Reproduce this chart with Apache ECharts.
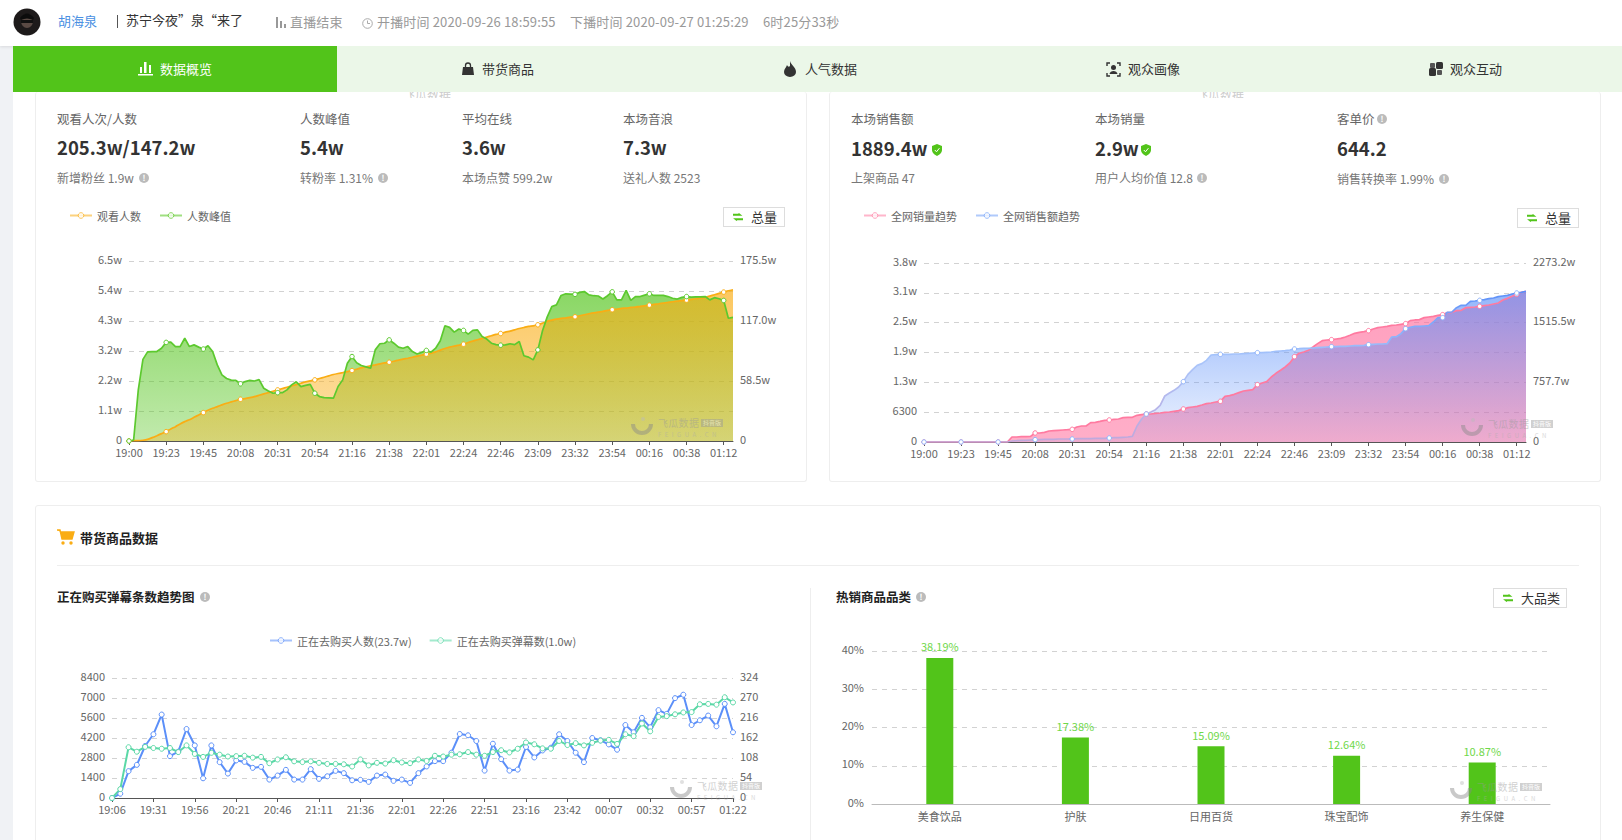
<!DOCTYPE html>
<html>
<head>
<meta charset="utf-8">
<title>直播详情</title>
<script src="https://cdn.jsdelivr.net/npm/echarts@6/dist/echarts.min.js"></script>
<style>
html, body { margin: 0; padding: 0; width: 1622px; height: 840px; overflow: hidden; background: #fff; font-family: "Noto Sans CJK SC", "Noto Sans", sans-serif; color: #666; }
.abs { position: absolute; }
.t { position: absolute; white-space: nowrap; transform: translateY(-50%); font-size: 13px; line-height: 18px; }
.label { color: #666; font-size: 12.5px; }
.value { color: #333; font-size: 18.5px; font-weight: 700; }
.sub { color: #777; font-size: 12px; }
.head { color: #999; font-size: 13px; letter-spacing: .15px; }
.tab { color: #333; font-size: 13px; }
.bold { color: #222; font-size: 13px; font-weight: 700; }
.info { position: absolute; width: 10px; height: 10px; border-radius: 50%; background: #bbb; color: #fff; font-size: 8px; line-height: 10px; text-align: center; font-weight: 700; transform: translateY(-50%); }
.shield { position: absolute; transform: translateY(-50%); }
.card { position: absolute; border: 1px solid #eee; border-radius: 3px; box-sizing: border-box; background: #fff; }
.btn { position: absolute; box-sizing: border-box; border: 1px solid #ddd; background: #fff; color: #333; font-size: 13px; height: 20px; line-height: 18px; }
.btn svg { position: absolute; left: 9px; top: 5px; }
.btn span { position: absolute; left: 27px; top: 0; white-space: nowrap; }
.chart { position: absolute; }
.clip { position: absolute; height: 6px; overflow: hidden; color: #ccc; font-size: 12px; line-height: 6px; white-space: nowrap; }
.mark { position: absolute; pointer-events: none; opacity: .45; }
.mark b { position: absolute; left: 16px; top: -11px; font-weight: 400; font-size: 10px; letter-spacing: .3px; color: #999; white-space: nowrap; line-height: 14px; }
.mark i { position: absolute; left: 59px; top: -8px; font-style: normal; font-size: 6px; line-height: 8px; background: #999; color: #fff; padding: 0 2px; white-space: nowrap; }
.mark u { position: absolute; left: 16px; top: 4px; text-decoration: none; font-size: 6px; letter-spacing: 3.5px; color: #aaa; line-height: 8px; white-space: nowrap; }
</style>
</head>
<body>
<div class="abs" style="left:0;top:46px;width:13px;height:794px;background:#f0f2f5"></div>
<div class="abs" style="left:0;top:0;width:1622px;height:46px;background:#fff;box-shadow:0 1px 3px rgba(0,0,0,.1)"></div>

<svg class="abs" style="left:13px;top:8px" width="28" height="28"><circle cx="14" cy="14" r="13.5" fill="#1d1a1a"/><ellipse cx="14" cy="13" rx="6" ry="7" fill="#5a4a44"/><path d="M7 10 Q14 1 21 10 L20 12 Q14 9 8 12 Z" fill="#0c0c0c"/><rect x="8" y="12" width="12" height="3" fill="#111"/></svg>
<div class="t" style="left:58px;top:21px;color:#4a90e2">胡海泉</div>
<div class="abs" style="left:117px;top:15px;width:1px;height:13px;background:#555"></div>
<div class="t" style="left:126px;top:20px;color:#333">苏宁今夜”泉“来了</div>
<svg class="abs" style="left:276px;top:17px" width="10" height="11"><rect x="0" y="0" width="2" height="11" fill="#999"/><rect x="4" y="4" width="2" height="7" fill="#999"/><rect x="8" y="7" width="2" height="4" fill="#999"/></svg>
<div class="t head" style="left:290px;top:22px">直播结束</div>
<svg class="abs" style="left:362px;top:18px" width="11" height="11"><circle cx="5.5" cy="5.5" r="4.8" fill="none" stroke="#aaa"/><path d="M5.5 2.5V5.5H8" fill="none" stroke="#aaa"/></svg>
<div class="t head" style="left:377px;top:22px">开播时间 2020-09-26 18:59:55</div>
<div class="t head" style="left:570px;top:22px">下播时间 2020-09-27 01:25:29</div>
<div class="t head" style="left:763px;top:22px">6时25分33秒</div>

<div class="abs" style="left:13px;top:46px;width:1609px;height:46px;background:#ebf7e8"></div>
<div class="abs" style="left:13px;top:46px;width:324px;height:46px;background:#52c41a"></div>
<svg class="abs" style="left:138px;top:61px" width="15" height="15"><rect x="2" y="6" width="2" height="6" fill="#fff"/><rect x="6" y="1" width="2.5" height="11" fill="#fff"/><rect x="11" y="4" width="2" height="8" fill="#fff"/><rect x="0" y="13" width="15" height="1.5" fill="#fff"/></svg>
<div class="t tab" style="left:160px;top:69px;color:#fff">数据概览</div>
<svg class="abs" style="left:461px;top:62px" width="14" height="14"><path d="M2 5H12L13 13H1Z" fill="#333"/><path d="M4.5 5V3.5a2.5 2.5 0 0 1 5 0V5" fill="none" stroke="#333" stroke-width="1.3"/></svg>
<div class="t tab" style="left:482px;top:69px">带货商品</div>
<svg class="abs" style="left:783px;top:61px" width="14" height="16"><path d="M7 0C8 4 13 6 13 11A6 5 0 0 1 1 11C1 8 3 7 4 4C5 6 6 6 7 5C7 3 7 2 7 0Z" fill="#333"/></svg>
<div class="t tab" style="left:805px;top:69px">人气数据</div>
<svg class="abs" style="left:1106px;top:62px" width="15" height="15"><path d="M1 4V1H4M11 1H14V4M14 11V14H11M4 14H1V11" fill="none" stroke="#333" stroke-width="1.4"/><circle cx="7.5" cy="5.5" r="2.5" fill="#333"/><path d="M3.5 12C4 8 11 8 11.5 12Z" fill="#333"/></svg>
<div class="t tab" style="left:1128px;top:69px">观众画像</div>
<svg class="abs" style="left:1429px;top:62px" width="14" height="14"><rect x="0" y="6" width="7" height="8" rx="1.5" fill="#333"/><rect x="7" y="0" width="7" height="7" rx="1.5" fill="#333"/><rect x="1" y="1" width="5" height="5" rx="1" fill="#555"/><rect x="8" y="8" width="5" height="5" rx="1" fill="#555"/></svg>
<div class="t tab" style="left:1450px;top:69px">观众互动</div>

<div class="card" style="left:35px;top:92px;width:772px;height:390px;border-top:none"></div>
<div class="card" style="left:829px;top:92px;width:772px;height:390px;border-top:none"></div>
<div class="clip" style="left:403px;top:92px">飞瓜数据</div>
<div class="clip" style="left:1196px;top:92px">飞瓜数据</div>

<div class="t label" style="left:57px;top:119px">观看人次/人数</div>
<div class="t label" style="left:300px;top:119px">人数峰值</div>
<div class="t label" style="left:462px;top:119px">平均在线</div>
<div class="t label" style="left:623px;top:119px">本场音浪</div>
<div class="t value" style="left:57px;top:147px">205.3w/147.2w</div>
<div class="t value" style="left:300px;top:147px">5.4w</div>
<div class="t value" style="left:462px;top:147px">3.6w</div>
<div class="t value" style="left:623px;top:147px">7.3w</div>
<div class="t sub" style="left:57px;top:178px">新增粉丝 1.9w</div><div class="info" style="left:139px;top:178px">!</div>
<div class="t sub" style="left:300px;top:178px">转粉率 1.31%</div><div class="info" style="left:378px;top:178px">!</div>
<div class="t sub" style="left:462px;top:178px">本场点赞 599.2w</div>
<div class="t sub" style="left:623px;top:178px">送礼人数 2523</div>

<div class="t label" style="left:851px;top:119px">本场销售额</div>
<div class="t label" style="left:1095px;top:119px">本场销量</div>
<div class="t label" style="left:1337px;top:119px">客单价</div><div class="info" style="left:1377px;top:119px">!</div>
<div class="t value" style="left:851px;top:148px">1889.4w</div>
<svg class="shield" style="left:932px;top:150px" width="10" height="12"><path d="M5 0L10 2V6C10 9 7 11 5 12C3 11 0 9 0 6V2Z" fill="#52c41a"/><path d="M2.8 6L4.5 7.8L7.4 4.2" fill="none" stroke="#fff"/></svg>
<div class="t value" style="left:1095px;top:148px">2.9w</div>
<svg class="shield" style="left:1141px;top:150px" width="10" height="12"><path d="M5 0L10 2V6C10 9 7 11 5 12C3 11 0 9 0 6V2Z" fill="#52c41a"/><path d="M2.8 6L4.5 7.8L7.4 4.2" fill="none" stroke="#fff"/></svg>
<div class="t value" style="left:1337px;top:148px">644.2</div>
<div class="t sub" style="left:851px;top:178px">上架商品 47</div>
<div class="t sub" style="left:1095px;top:178px">用户人均价值 12.8</div><div class="info" style="left:1197px;top:178px">!</div>
<div class="t sub" style="left:1337px;top:179px">销售转换率 1.99%</div><div class="info" style="left:1439px;top:179px">!</div>

<div class="btn" style="left:723px;top:207px;width:62px"><svg width="10" height="8"><path d="M0 1.5H5.5M5.5 0.5L7.5 2H0" fill="none" stroke="#52c41a" stroke-width="1.3"/><path d="M10 6.5H4M4 7.5L2 6H10" fill="none" stroke="#52c41a" stroke-width="1.3"/></svg><span>总量</span></div>
<div class="btn" style="left:1517px;top:208px;width:62px"><svg width="10" height="8"><path d="M0 1.5H5.5M5.5 0.5L7.5 2H0" fill="none" stroke="#52c41a" stroke-width="1.3"/><path d="M10 6.5H4M4 7.5L2 6H10" fill="none" stroke="#52c41a" stroke-width="1.3"/></svg><span>总量</span></div>

<div class="card" style="left:35px;top:505px;width:1566px;height:345px"></div>
<svg class="abs" style="left:57px;top:529px" width="18" height="16"><path d="M0 1H3L5 10H15L17 3H4" fill="#faad14" stroke="#faad14" stroke-width="1.4"/><circle cx="6" cy="14" r="1.7" fill="#faad14"/><circle cx="14" cy="14" r="1.7" fill="#faad14"/></svg>
<div class="t bold" style="left:80px;top:538px">带货商品数据</div>
<div class="abs" style="left:57px;top:565px;width:1522px;height:1px;background:#eee"></div>
<div class="t bold" style="left:57px;top:597px;font-size:12.5px">正在购买弹幕条数趋势图</div><div class="info" style="left:200px;top:597px">!</div>
<div class="abs" style="left:810px;top:588px;width:1px;height:252px;background:#eee"></div>
<div class="t bold" style="left:836px;top:597px;font-size:12.5px">热销商品品类</div><div class="info" style="left:916px;top:597px">!</div>
<div class="btn" style="left:1493px;top:588px;width:74px"><svg width="10" height="8"><path d="M0 1.5H5.5M5.5 0.5L7.5 2H0" fill="none" stroke="#52c41a" stroke-width="1.3"/><path d="M10 6.5H4M4 7.5L2 6H10" fill="none" stroke="#52c41a" stroke-width="1.3"/></svg><span>大品类</span></div>

<div id="chart-viewers" class="chart" style="left:36px;top:195px;width:771px;height:285px"></div>
<div id="chart-sales" class="chart" style="left:830px;top:195px;width:771px;height:285px"></div>
<div id="chart-danmu" class="chart" style="left:36px;top:625px;width:774px;height:215px"></div>
<div id="chart-category" class="chart" style="left:812px;top:610px;width:790px;height:230px"></div>

<script>
// 观看 / 峰值 chart
var tickLabelsLive = ['19:00','19:23','19:45','20:08','20:31','20:54','21:16','21:38','22:01','22:24','22:46','23:09','23:32','23:54','00:16','00:38','01:12'];
var viewerPeak = [0,360,18400,29400,32100,32200,32200,33400,35500,35600,34000,34000,37000,34000,34600,33800,33100,34300,32200,27400,23800,22500,21900,21800,20600,21400,21800,21600,22100,19000,18000,17200,17400,17400,18400,20200,21300,19600,20000,20400,17200,16000,15600,15500,15400,19600,22000,28000,30400,28200,27200,26700,26200,32800,35000,35200,36400,35200,33800,33400,34000,32200,31300,31900,32600,32000,33400,36100,41500,40900,39200,40300,39800,38500,39800,40000,37600,36700,35200,34700,34500,34600,35000,34700,35800,30700,30200,29200,32800,39700,44600,48400,49000,52400,53000,52900,52800,53500,53800,52600,52300,52200,51100,52300,53700,50800,50800,54200,50600,52000,52000,52500,53000,52400,52400,52400,52000,51400,51100,51700,52000,51800,51900,51900,52000,50800,51600,51200,50600,44200,44500];
// 观看人数, unit w
var viewerTotal = [0,0.3,0.3,0.7,1.6,3.3,5.2,7.2,9.1,11.7,14.0,16.6,18.9,20.8,23.1,25.4,27.7,30.0,31.9,33.5,35.2,36.8,38.1,39.4,40.7,41.4,42.3,43.3,44.6,45.9,47.2,48.5,49.8,51.1,52.4,53.7,55.0,56.3,57.6,58.6,59.6,60.9,62.2,63.5,64.8,65.8,66.7,67.7,68.7,70.0,71.3,72.3,73.3,74.2,75.2,76.2,76.8,77.8,78.8,79.8,80.7,81.7,82.7,83.7,84.7,85.6,86.9,88.6,90.2,91.5,92.5,93.4,94.4,96.1,97.4,98.7,100.0,101.3,102.6,103.9,104.8,106.1,107.1,108.4,109.7,110.7,111.7,112.3,113.3,114.9,116.6,117.9,118.8,119.5,120.1,120.8,121.1,122.1,123.1,124.1,125.0,125.7,126.3,127.3,128.0,128.6,129.3,129.6,130.2,130.6,131.2,131.9,132.5,133.2,133.8,134.5,135.1,135.8,136.4,136.8,137.4,138.1,138.7,139.4,140.0,141.3,142.6,143.9,145.2,146.5,147.5];

// 全网销量 / 销售额 chart
var salesVolume = [0,0,0,0,0,0,0,0,0,0,0,0,0,0,0,0,0,0,0,1060,1060,1130,1130,1200,1900,1900,2040,2320,2390,2460,2530,2600,2680,3170,3380,3380,4080,4150,4360,4580,4650,4790,4860,5140,5210,5210,5630,5770,5910,5910,6050,6120,6270,6340,6480,6620,6970,7250,7390,7530,7810,8100,8240,8450,8590,9640,9790,10070,10420,10770,10910,11050,12110,12460,12740,13730,14500,15140,15840,16680,18020,18730,19010,19360,20060,20770,21400,21540,21610,21750,21890,22180,22530,22950,23160,23300,23510,23870,24150,24290,24430,24640,24710,24850,24990,25630,25770,25840,26260,26400,26540,26750,26890,27320,27390,27740,27810,28370,28440,28510,28650,28790,28930,29150,29360,29990,30340,30760,31190,31610,31820];
// 销售额, unit w
var salesAmount = [0,0,0,0,0,0,0,0,0,0,0,0,0,0,0,0,0,0,0,12.7,16.9,21.2,21.2,25.4,29.6,29.6,33.9,33.9,33.9,38.1,38.1,38.1,38.1,42.3,42.3,42.3,42.3,46.6,46.6,46.6,50.8,55.0,55.0,59.3,63.5,72.0,203.2,292.1,355.6,381.0,410.6,465.6,584.2,622.3,656.1,698.4,766.2,859.3,918.6,973.6,994.8,1037.1,1104.8,1109.0,1113.3,1113.3,1113.3,1117.5,1117.5,1121.7,1126.0,1130.2,1134.4,1134.4,1138.7,1142.9,1151.4,1155.6,1159.8,1168.3,1181.0,1185.2,1189.5,1189.5,1193.7,1198.0,1202.2,1206.4,1210.6,1210.6,1214.9,1214.9,1219.1,1223.3,1223.3,1227.6,1236.0,1240.3,1244.5,1244.5,1248.7,1333.4,1337.6,1375.7,1439.2,1456.2,1468.9,1468.9,1473.1,1477.3,1523.9,1578.9,1578.9,1646.6,1650.9,1705.9,1735.5,1735.5,1786.3,1790.6,1799.0,1807.5,1820.2,1828.7,1845.6,1854.1,1862.5,1879.5,1892.2,1900.6,1913.3];

// 正在购买 chart
var tickLabelsBuy = ['19:06','19:31','19:56','20:21','20:46','21:11','21:36','22:01','22:26','22:51','23:16','23:42','00:07','00:32','00:57','01:22'];
var buyers = [0,300,1880,2320,3640,4460,5840,2930,3240,4830,3680,1380,3680,2510,1710,2630,2530,2110,2180,1290,1570,1970,1290,1290,2020,1340,1520,1900,1740,1240,1270,1130,1570,1640,1200,1290,1060,1740,2210,2580,2580,3170,4480,4390,3990,1920,3800,2720,1920,1990,3570,2840,3330,3520,4460,3990,3170,2510,4200,4040,3750,3380,5110,4600,5610,4950,6150,5890,6990,7230,5110,5440,5770,5020,6590,4600];
var danmu = [0,24,137,125,138,135,133,135,124,142,119,111,122,117,112,113,114,109,111,94,104,110,99,97,99,95,92,92,91,85,104,88,95,93,102,96,94,104,100,114,112,117,118,124,117,114,124,129,123,133,150,145,134,133,154,143,148,142,149,155,157,146,172,167,201,180,219,221,226,231,232,253,254,252,272,258];

// 热销品类 chart
var categoryNames = ['美食饮品','护肤','日用百货','珠宝配饰','养生保健'];
var categoryShare = [38.19,17.38,15.09,12.64,10.87];

var axisGrey = '#666';
var splitGrey = '#d2d2d2';

// fill the sparse tick labels into one category per data point
function spreadLabels(labels, step, total) {
  var out = [];
  for (var i = 0; i < total; i++) out.push(i % step === 0 && labels[i / step] ? labels[i / step] : '');
  return out;
}

function fmtCount(v) {
  if (v === 0) return '0';
  return v < 10000 ? String(v) : (v / 10000).toFixed(1) + 'w';
}
function fmtWan(v) {
  return v === 0 ? '0' : v.toFixed(1) + 'w';
}
function fade(rgb, top, bottom) {
  return new echarts.graphic.LinearGradient(0, 0, 0, 1, [
    { offset: 0, color: 'rgba(' + rgb + ',' + top + ')' },
    { offset: 1, color: 'rgba(' + rgb + ',' + bottom + ')' }
  ]);
}

function valueAxis(max, interval, fmt, showSplit) {
  return {
    type: 'value', min: 0, max: max, interval: interval,
    axisLine: { show: false }, axisTick: { show: false },
    // labels sit a little above their gridline
    axisLabel: { color: axisGrey, fontSize: 11, margin: 7, verticalAlign: 'bottom', lineHeight: 5, formatter: fmt },
    splitLine: { show: showSplit, lineStyle: { color: splitGrey, type: [5, 5] } }
  };
}
function timeAxis(cats, every) {
  return {
    type: 'category', boundaryGap: false, data: cats,
    axisLine: { lineStyle: { color: '#555' } },
    axisTick: { interval: every - 1, length: 4, lineStyle: { color: '#555' } },
    axisLabel: { interval: every - 1, color: axisGrey, fontSize: 11, margin: 5 },
    splitLine: { show: false }
  };
}
// area layer sits under both lines
function areaLayer(name, data, axisIndex, fill, z, smooth) {
  return { name: name, type: 'line', data: data, yAxisIndex: axisIndex, z: z, smooth: smooth, silent: true, symbol: 'none', lineStyle: { width: 0 }, areaStyle: { color: fill, opacity: 1 } };
}
function lineLayer(name, data, axisIndex, color, smooth, markerColor) {
  return {
    name: name, type: 'line', data: data, yAxisIndex: axisIndex, z: 5, smooth: smooth,
    showSymbol: true, showAllSymbol: true, symbol: 'circle',
    symbolSize: function(v, p) { return p.dataIndex % 8 === 0 ? 4.5 : 0; },
    itemStyle: { color: '#fff', borderColor: markerColor || color, borderWidth: 1 },
    lineStyle: { color: color, width: 1.7 }
  };
}
function legendAt(left, top, gap, names, colors) {
  return {
    left: left, top: top, itemWidth: 22, itemHeight: 7, itemGap: gap,
    data: names.map(function(n, i) {
      return { name: n, itemStyle: { color: '#fff', borderColor: colors[i], borderWidth: 1, opacity: 0.7 }, lineStyle: { color: colors[i], opacity: 0.55, width: 2 } };
    }),
    textStyle: { color: '#666', fontSize: 11 }
  };
}

// --- Chart 1: 观看人数 / 人数峰值 ---
var chart1 = echarts.init(document.getElementById('chart-viewers'), null, { renderer: 'svg' });
chart1.setOption({
  animation: false,
  textStyle: { fontFamily: 'Noto Sans CJK SC' },
  legend: legendAt(28, 10, 18, ['观看人数', '人数峰值'], ['#faad14', '#52c41a']),
  grid: { left: 93, right: 74, top: 66, bottom: 39 },
  xAxis: timeAxis(spreadLabels(tickLabelsLive, 8, viewerPeak.length), 8),
  yAxis: [valueAxis(64800, 10800, fmtCount, true), valueAxis(175.5, 58.5, fmtWan, false)],
  series: [
    areaLayer('峰值面积', viewerPeak, 0, fade('82,196,26', 0.68, 0.36), 1, false),
    areaLayer('观看面积', viewerTotal, 1, fade('250,173,20', 0.68, 0.36), 2, 0.2),
    lineLayer('观看人数', viewerTotal, 1, '#faad14', 0.2),
    lineLayer('人数峰值', viewerPeak, 0, '#5cc92e', false)
  ]
});

// --- Chart 2: 全网销量 / 销售额 ---
var chart2 = echarts.init(document.getElementById('chart-sales'), null, { renderer: 'svg' });
chart2.setOption({
  animation: false,
  textStyle: { fontFamily: 'Noto Sans CJK SC' },
  legend: legendAt(28, 10, 18, ['全网销量趋势', '全网销售额趋势'], ['#ff7aa0', '#6f9ff8']),
  grid: { left: 94, right: 75, top: 68, bottom: 38 },
  xAxis: timeAxis(spreadLabels(tickLabelsLive, 8, salesVolume.length), 8),
  yAxis: [valueAxis(37800, 6300, fmtCount, true), valueAxis(2273.2, 2273.2 / 3, fmtWan, false)],
  series: [
    areaLayer('销量面积', salesVolume, 0, fade('255,100,150', 0.62, 0.52), 1, false),
    areaLayer('销售额面积', salesAmount, 1, fade('91,143,249', 0.66, 0.1), 2, false),
    lineLayer('全网销量趋势', salesVolume, 0, '#ff7aa0', false),
    lineLayer('全网销售额趋势', salesAmount, 1, new echarts.graphic.LinearGradient(0, 0, 0, 1, [
      { offset: 0, color: '#5b8ff9' },
      { offset: 0.45, color: '#a9c6fb' },
      { offset: 1, color: '#c0a8dc' }
    ]), false, '#8fb3fa')
  ]
});

// --- Chart 3: 正在购买 ---
var chart3 = echarts.init(document.getElementById('chart-danmu'), null, { renderer: 'svg' });
function buyLine(name, data, axisIndex, color) {
  return {
    name: name, type: 'line', data: data, yAxisIndex: axisIndex,
    showSymbol: true, showAllSymbol: true, symbol: 'circle', symbolSize: 5,
    itemStyle: { color: '#fff', borderColor: color, borderWidth: 1 },
    lineStyle: { color: color, width: 2 }
  };
}
chart3.setOption({
  animation: false,
  textStyle: { fontFamily: 'Noto Sans CJK SC' },
  legend: legendAt(228, 5, 17, ['正在去购买人数(23.7w)', '正在去购买弹幕数(1.0w)'], ['#5b8ff9', '#5ad8a6']),
  grid: { left: 76, right: 77, top: 53, bottom: 42 },
  xAxis: timeAxis(spreadLabels(tickLabelsBuy, 5, buyers.length), 5),
  yAxis: [valueAxis(8400, 1400, fmtCount, true), valueAxis(324, 54, fmtCount, false)],
  series: [
    buyLine('正在去购买人数(23.7w)', buyers, 0, '#5b8ff9'),
    buyLine('正在去购买弹幕数(1.0w)', danmu, 1, '#5ad8a6')
  ]
});

// --- Chart 4: 热销商品品类 ---
var chart4 = echarts.init(document.getElementById('chart-category'), null, { renderer: 'svg' });
chart4.setOption({
  animation: false,
  textStyle: { fontFamily: 'Noto Sans CJK SC' },
  grid: { left: 60, right: 52, top: 41, bottom: 36 },
  xAxis: {
    type: 'category', data: categoryNames,
    axisLine: { lineStyle: { color: '#bbb' } }, axisTick: { show: false },
    axisLabel: { color: axisGrey, fontSize: 11, margin: 6 }
  },
  yAxis: {
    type: 'value', min: 0, max: 40, interval: 10,
    axisLine: { show: false }, axisTick: { show: false },
    axisLabel: { color: axisGrey, fontSize: 11, margin: 8, verticalAlign: 'bottom', lineHeight: 5, formatter: '{value}%' },
    splitLine: { lineStyle: { color: splitGrey, type: [5, 5] } }
  },
  series: [{
    type: 'bar', data: categoryShare, barWidth: 27,
    itemStyle: { color: '#52c41a' },
    label: { show: true, position: 'top', distance: 6, color: '#6fd84a', fontSize: 11, formatter: '{c}%' }
  }]
});

// 飞瓜 watermark over each chart, x/y is the ring centre
function addMark(x, y) {
  var el = document.createElement('div');
  el.className = 'mark';
  el.style.left = x + 'px';
  el.style.top = y + 'px';
  el.innerHTML = '<svg style="position:absolute;left:-11px;top:-10px" width="22" height="20"><path d="M2 7A9 9 0 0 0 20 7" fill="none" stroke="#888" stroke-width="4"/><circle cx="12" cy="2" r="2" fill="#bbb"/></svg><b>飞瓜数据</b><i>抖音版</i><u>FEIGUA.CN</u>';
  document.body.appendChild(el);
}
addMark(642, 427);
addMark(1472, 428);
addMark(681, 790);
addMark(1461, 791);

window.addEventListener('resize', function() { chart1.resize(); chart2.resize(); chart3.resize(); chart4.resize(); });
</script>
</body>
</html>
